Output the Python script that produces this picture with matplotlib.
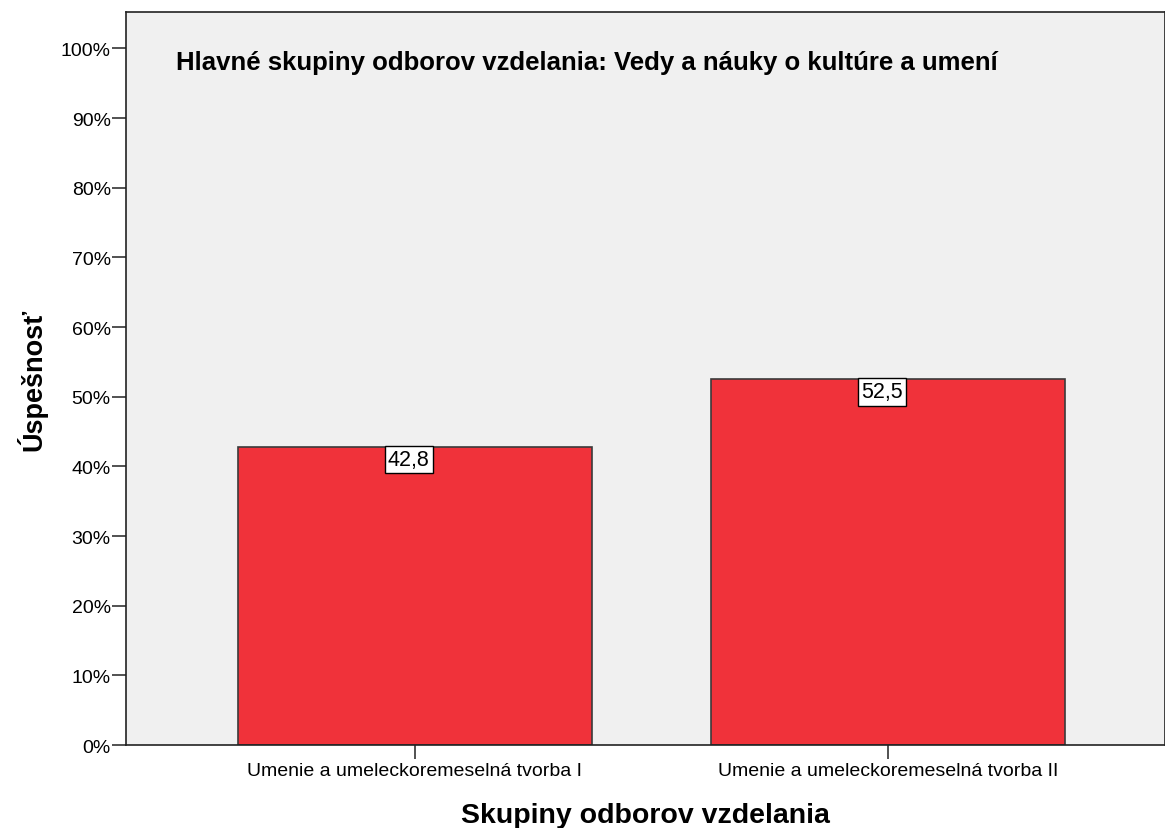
import matplotlib.pyplot as plt
from matplotlib.ticker import FuncFormatter

# Údaje z grafu
skupiny = ['Umenie a umeleckoremeselná tvorba I', 'Umenie a umeleckoremeselná tvorba II']
uspesnost = [42.8, 52.5]
popisky = ['42,8', '52,5']
nadpis = 'Hlavné skupiny odborov vzdelania: Vedy a náuky o kultúre a umení'

plt.rcParams['font.family'] = ['Liberation Sans', 'DejaVu Sans']

fig = plt.figure(figsize=(11.65, 8.29), dpi=100)
ax = fig.add_axes([0.1082, 0.1001, 0.8918, 0.884])
ax.set_facecolor('#f0f0f0')

x = list(range(len(skupiny)))
bars = ax.bar(x, uspesnost, width=0.75, color='#f0323a', edgecolor='#3a3a3a', linewidth=1.2)

# popisky hodnôt v bielom rámčeku pri vrchu stĺpca
for xi, v, txt in zip(x, uspesnost, popisky):
    ax.text(xi - 0.013, v - 0.3, txt, ha='center', va='top', fontsize=15.5,
            bbox=dict(boxstyle='square,pad=0.15', facecolor='white', edgecolor='black', linewidth=1))

ax.set_xlim(-0.611, 1.586)
ax.set_ylim(0, 105.2)
ax.set_yticks(range(0, 101, 10))
ax.yaxis.set_major_formatter(FuncFormatter(lambda v, p: f'{int(v)}%'))
ax.set_xticks(x)
ax.set_xticklabels(skupiny)
ax.tick_params(axis='both', direction='out', length=10, width=1.2, labelsize=14, color='#333333')
ax.tick_params(axis='y', pad=1)
ax.tick_params(axis='x', pad=2)

for s in ax.spines.values():
    s.set_color('#222222')
    s.set_linewidth(1.2)

ax.text(0.048, 0.932, nadpis, transform=ax.transAxes, fontsize=18.5, fontweight='bold', va='center')

ax.set_ylabel('Úspešnosť', fontsize=19.5, fontweight='bold', labelpad=10)
ax.set_xlabel('Skupiny odborov vzdelania', fontsize=20.5, fontweight='bold', labelpad=17)

plt.savefig('out.png', dpi=100)
